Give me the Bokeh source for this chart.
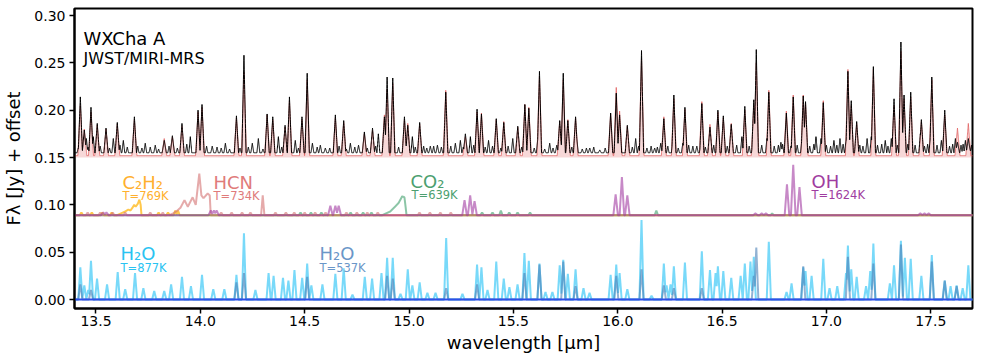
import numpy as np
from bokeh.plotting import figure
from bokeh.models import Label, Range1d, FixedTicker
from bokeh.embed import file_html
from bokeh.resources import INLINE

# ---------------- data ----------------
x_ticks = [13.5, 14.0, 14.5, 15.0, 15.5, 16.0, 16.5, 17.0, 17.5]
x_tick_labels = ["13.5", "14.0", "14.5", "15.0", "15.5", "16.0", "16.5", "17.0", "17.5"]
y_ticks = [0.0, 0.05, 0.10, 0.15, 0.20, 0.25, 0.30]
y_tick_labels = ["0.00", "0.05", "0.10", "0.15", "0.20", "0.25", "0.30"]

# observed (JWST) spectrum: main emission lines, flux incl. +0.15 offset
obs_peak_wl = [13.425, 13.444, 13.476, 13.506, 13.548, 13.602, 13.684, 13.827, 13.866, 13.912,
               13.989, 14.008, 14.173, 14.209, 14.320, 14.347, 14.406, 14.427, 14.487, 14.512,
               14.647, 14.687, 14.786, 14.825, 14.882, 14.895, 14.922, 14.978, 14.994, 15.051,
               15.176, 15.270, 15.326, 15.347, 15.418, 15.454, 15.521, 15.555, 15.574, 15.625,
               15.722, 15.739, 15.761, 15.798, 15.966, 15.993, 16.009, 16.046, 16.114, 16.221,
               16.269, 16.322, 16.403, 16.442, 16.480, 16.506, 16.544, 16.609, 16.652, 16.664,
               16.724, 16.808, 16.841, 16.889, 16.900, 16.985, 17.103, 17.119, 17.145, 17.225,
               17.324, 17.357, 17.372, 17.404, 17.455, 17.505, 17.567, 17.628, 17.680]
obs_peak_val = [0.214, 0.179, 0.203, 0.186, 0.181, 0.187, 0.193, 0.168, 0.173, 0.186,
                0.200, 0.206, 0.194, 0.258, 0.196, 0.193, 0.184, 0.214, 0.193, 0.239,
                0.195, 0.189, 0.177, 0.181, 0.193, 0.235, 0.234, 0.193, 0.184, 0.187,
                0.219, 0.175, 0.201, 0.196, 0.191, 0.187, 0.183, 0.206, 0.202, 0.241,
                0.189, 0.239, 0.189, 0.193, 0.197, 0.218, 0.195, 0.184, 0.263, 0.191,
                0.216, 0.203, 0.207, 0.182, 0.200, 0.194, 0.185, 0.204, 0.211, 0.264,
                0.219, 0.197, 0.214, 0.215, 0.209, 0.208, 0.241, 0.210, 0.188, 0.246,
                0.212, 0.272, 0.216, 0.219, 0.190, 0.235, 0.200, 0.166, 0.170]
model_peak_val = [0.205, 0.180, 0.198, 0.184, 0.180, 0.185, 0.190, 0.170, 0.172, 0.183,
                  0.198, 0.203, 0.192, 0.240, 0.195, 0.190, 0.182, 0.210, 0.190, 0.232,
                  0.192, 0.187, 0.175, 0.179, 0.195, 0.222, 0.228, 0.190, 0.186, 0.185,
                  0.221, 0.172, 0.198, 0.197, 0.190, 0.188, 0.182, 0.206, 0.203, 0.236,
                  0.188, 0.232, 0.190, 0.192, 0.196, 0.224, 0.199, 0.183, 0.255, 0.193,
                  0.212, 0.201, 0.209, 0.185, 0.198, 0.192, 0.186, 0.200, 0.205, 0.250,
                  0.221, 0.199, 0.216, 0.216, 0.207, 0.210, 0.243, 0.205, 0.186, 0.243,
                  0.205, 0.262, 0.212, 0.214, 0.188, 0.232, 0.195, 0.181, 0.186]
# weaker features in the observed spectrum
obs_minor_wl = [13.454, 13.487, 13.583, 13.631, 13.736, 13.784, 13.952, 14.057, 14.120, 14.249,
                14.278, 14.374, 14.455, 14.537, 14.575, 14.599, 14.719, 14.758, 14.853, 15.016,
                15.102, 15.136, 15.222, 15.246, 15.294, 15.381, 15.497, 15.617, 15.674, 15.708,
                15.804, 15.866, 15.914, 16.086, 16.177, 16.206, 16.264, 16.312, 16.379, 16.398,
                16.542, 16.595, 16.648, 16.715, 16.782, 16.806, 16.883, 16.950, 16.974, 17.036,
                17.065, 17.094, 17.195, 17.215, 17.282, 17.311, 17.450, 17.498, 17.551, 17.570,
                17.618, 17.666, 17.685]
obs_minor_val = [0.170, 0.172, 0.170, 0.168, 0.165, 0.163, 0.172, 0.162, 0.165, 0.165,
                 0.170, 0.172, 0.168, 0.165, 0.163, 0.160, 0.165, 0.163, 0.175, 0.172,
                 0.162, 0.163, 0.165, 0.168, 0.172, 0.168, 0.170, 0.170, 0.165, 0.163,
                 0.170, 0.160, 0.158, 0.170, 0.160, 0.165, 0.170, 0.165, 0.162, 0.165,
                 0.170, 0.172, 0.170, 0.170, 0.166, 0.170, 0.170, 0.172, 0.170, 0.168,
                 0.170, 0.168, 0.170, 0.172, 0.168, 0.170, 0.175, 0.172, 0.168, 0.170,
                 0.170, 0.168, 0.162]
# small ripples of the observed continuum
obs_ripple_wl = [13.415, 13.462, 13.520, 13.565, 13.615, 13.650, 13.700, 13.720, 13.760, 13.800,
                 13.850, 13.890, 13.935, 14.030, 14.080, 14.100, 14.140, 14.190, 14.230, 14.300,
                 14.390, 14.470, 14.560, 14.620, 14.665, 14.700, 14.740, 14.800, 14.840, 14.950,
                 15.030, 15.070, 15.085, 15.118, 15.155, 15.200, 15.260, 15.310, 15.365, 15.400,
                 15.440, 15.475, 15.540, 15.600, 15.650, 15.690, 15.780, 15.830, 15.850, 15.885,
                 15.940, 16.070, 16.100, 16.140, 16.160, 16.190, 16.240, 16.290, 16.340, 16.360,
                 16.420, 16.460, 16.525, 16.570, 16.630, 16.690, 16.750, 16.770, 16.790, 16.830,
                 16.860, 16.920, 16.940, 17.000, 17.020, 17.050, 17.080, 17.160, 17.175, 17.245,
                 17.265, 17.295, 17.340, 17.390, 17.425, 17.470, 17.485, 17.530, 17.590, 17.605,
                 17.645, 17.655, 17.695]
obs_ripple_val = [0.160, 0.161, 0.162, 0.160, 0.163, 0.161, 0.162, 0.160, 0.161, 0.159,
                  0.162, 0.160, 0.164, 0.162, 0.161, 0.160, 0.159, 0.160, 0.161, 0.159,
                  0.161, 0.160, 0.161, 0.160, 0.162, 0.159, 0.161, 0.160, 0.162, 0.161,
                  0.161, 0.162, 0.160, 0.162, 0.161, 0.162, 0.161, 0.163, 0.161, 0.162,
                  0.160, 0.162, 0.161, 0.160, 0.159, 0.160, 0.161, 0.159, 0.160, 0.161,
                  0.160, 0.161, 0.162, 0.160, 0.162, 0.161, 0.162, 0.160, 0.163, 0.162,
                  0.161, 0.163, 0.162, 0.163, 0.162, 0.163, 0.162, 0.163, 0.164, 0.162,
                  0.163, 0.162, 0.164, 0.163, 0.162, 0.163, 0.164, 0.163, 0.162, 0.163,
                  0.164, 0.162, 0.163, 0.164, 0.163, 0.162, 0.164, 0.163, 0.162, 0.164,
                  0.163, 0.164, 0.163]

# H2O slab models (no offset)
h2o_hot_wl = [13.425, 13.444, 13.463, 13.476, 13.505, 13.553, 13.604, 13.640, 13.687, 13.727,
              13.779, 13.827, 13.860, 13.912, 13.955, 14.008, 14.062, 14.115, 14.173, 14.209,
              14.264, 14.327, 14.351, 14.396, 14.422, 14.451, 14.488, 14.512, 14.532, 14.585,
              14.647, 14.687, 14.729, 14.788, 14.823, 14.868, 14.895, 14.922, 14.959, 14.994,
              15.016, 15.051, 15.088, 15.127, 15.178, 15.256, 15.326, 15.347, 15.376, 15.418,
              15.454, 15.481, 15.520, 15.553, 15.574, 15.625, 15.654, 15.687, 15.722, 15.739,
              15.761, 15.798, 15.836, 15.865, 15.966, 15.993, 16.009, 16.046, 16.114, 16.162,
              16.221, 16.234, 16.253, 16.269, 16.322, 16.403, 16.442, 16.469, 16.480, 16.506,
              16.544, 16.589, 16.609, 16.636, 16.652, 16.724, 16.809, 16.833, 16.889, 16.900,
              16.929, 16.985, 17.015, 17.052, 17.094, 17.103, 17.119, 17.145, 17.190, 17.210,
              17.225, 17.304, 17.324, 17.357, 17.376, 17.404, 17.455, 17.505, 17.567, 17.595,
              17.624, 17.653, 17.680]
h2o_hot_val = [0.034, 0.015, 0.010, 0.041, 0.022, 0.016, 0.029, 0.011, 0.028, 0.012,
               0.009, 0.009, 0.016, 0.024, 0.014, 0.026, 0.011, 0.011, 0.026, 0.070,
               0.010, 0.028, 0.025, 0.023, 0.020, 0.031, 0.023, 0.038, 0.015, 0.016,
               0.027, 0.033, 0.005, 0.024, 0.022, 0.028, 0.044, 0.044, 0.006, 0.032,
               0.015, 0.018, 0.007, 0.007, 0.065, 0.006, 0.037, 0.034, 0.010, 0.040,
               0.022, 0.013, 0.016, 0.049, 0.041, 0.038, 0.008, 0.008, 0.036, 0.042,
               0.027, 0.032, 0.012, 0.007, 0.026, 0.037, 0.028, 0.011, 0.084, 0.004,
               0.038, 0.015, 0.016, 0.035, 0.039, 0.051, 0.031, 0.028, 0.035, 0.030,
               0.023, 0.025, 0.038, 0.040, 0.045, 0.061, 0.008, 0.017, 0.034, 0.030,
               0.025, 0.043, 0.012, 0.014, 0.028, 0.057, 0.032, 0.024, 0.014, 0.030,
               0.059, 0.017, 0.036, 0.062, 0.044, 0.043, 0.025, 0.047, 0.020, 0.014,
               0.015, 0.012, 0.036]
h2o_cold_wl = [13.425, 13.476, 14.173, 14.209, 14.512, 14.895, 14.922, 15.178, 15.326, 15.553,
               15.625, 15.739, 15.798, 15.993, 16.114, 16.221, 16.269, 16.403, 16.652, 16.664,
               16.889, 17.103, 17.225, 17.357, 17.505, 17.567, 17.624]
h2o_cold_val = [0.016, 0.010, 0.018, 0.028, 0.024, 0.025, 0.022, 0.012, 0.016, 0.028,
                0.037, 0.040, 0.014, 0.025, 0.032, 0.015, 0.012, 0.012, 0.025, 0.055,
                0.035, 0.045, 0.038, 0.058, 0.040, 0.020, 0.014]

# molecular slab models shown with +0.089 offset
c2h2_band_wl = [13.600, 13.620, 13.640, 13.655, 13.665, 13.675, 13.683, 13.690, 13.700, 13.708, 13.714, 13.718]
c2h2_band_val = [0.089, 0.091, 0.093, 0.095, 0.094, 0.097, 0.100, 0.098, 0.101, 0.1055, 0.100, 0.089]
c2h2_line_wl = [13.430, 13.480, 13.530, 13.575, 13.800, 13.845, 13.880, 13.893]
c2h2_line_val = [0.092, 0.092, 0.092, 0.092, 0.092, 0.092, 0.094, 0.094]
hcn_band_wl = [13.850, 13.870, 13.890, 13.905, 13.924, 13.940, 13.963, 13.978, 13.995, 14.005,
               14.015, 14.035, 14.045, 14.050]
hcn_band_val = [0.089, 0.091, 0.094, 0.097, 0.105, 0.098, 0.108, 0.100, 0.133, 0.110,
                0.107, 0.112, 0.110, 0.089]
hcn_line_wl = [13.460, 13.520, 13.580, 13.640, 13.760, 13.820, 14.100, 14.150, 14.200, 14.240,
               14.299, 14.360, 14.410, 14.450, 14.500, 14.550, 14.600, 14.700, 14.750, 14.800,
               14.850, 15.050, 15.100, 15.150, 15.200]
hcn_line_val = [0.092, 0.092, 0.092, 0.092, 0.092, 0.092, 0.092, 0.092, 0.092, 0.092,
                0.110, 0.092, 0.092, 0.092, 0.092, 0.092, 0.092, 0.092, 0.092, 0.092,
                0.092, 0.092, 0.092, 0.092, 0.092]
co2_band_wl = [14.871, 14.890, 14.910, 14.935, 14.950, 14.960, 14.967, 14.978, 14.984, 14.988]
co2_band_val = [0.089, 0.091, 0.093, 0.0985, 0.102, 0.106, 0.109, 0.108, 0.097, 0.089]
co2_line_wl = [14.480, 14.530, 14.580, 14.720, 14.780, 14.820, 15.350, 15.400, 15.440, 15.480,
               15.520, 15.580, 16.185, 16.740]
co2_line_val = [0.092, 0.092, 0.092, 0.092, 0.092, 0.092, 0.092, 0.092, 0.094, 0.092,
                0.092, 0.092, 0.094, 0.091]
oh_line_wl = [13.535, 13.550, 14.050, 14.065, 14.078, 14.623, 14.647, 14.663, 15.266, 15.293,
              15.314, 15.990, 16.020, 16.046, 16.660, 16.690, 16.710, 16.811, 16.841, 16.871,
              17.450, 17.470, 17.490]
oh_line_val = [0.092, 0.092, 0.094, 0.094, 0.094, 0.099, 0.099, 0.099, 0.105, 0.110,
               0.104, 0.111, 0.1293, 0.110, 0.091, 0.091, 0.091, 0.1216, 0.1424, 0.1187,
               0.091, 0.091, 0.091]

# offsets / continuum levels
obs_base = 0.155
model_base = 0.152
fill_floor = 0.150
mid_base = 0.089
low_base = 0.0

x_lo, x_hi = 13.397, 17.700
y_lo, y_hi = -0.0095, 0.3074

# ---------------- line profiles built from the listed lines ----------------
grid = np.arange(13.38, 17.72, 0.0005)


def profile(base, wl, val, hw, band_wl=None, band_val=None):
    y = np.full_like(grid, base)
    for c, v in zip(wl, val):
        tri = base + (v - base) * np.clip(1.0 - np.abs(grid - c) / hw, 0.0, None)
        y = np.maximum(y, tri)
    if band_wl is not None:
        y = np.maximum(y, np.interp(grid, band_wl, band_val, left=base, right=base))
    return y


y_model = profile(model_base, obs_peak_wl, model_peak_val, 0.012)
y_obs = np.maximum.reduce([profile(obs_base, obs_peak_wl, obs_peak_val, 0.010),
                           profile(obs_base, obs_minor_wl, obs_minor_val, 0.007),
                           profile(obs_base, obs_ripple_wl, obs_ripple_val, 0.006)])
y_hot = profile(low_base, h2o_hot_wl, h2o_hot_val, 0.010)
y_cold = profile(low_base, h2o_cold_wl, h2o_cold_val, 0.010)
y_c2h2 = profile(mid_base, c2h2_line_wl, c2h2_line_val, 0.008, c2h2_band_wl, c2h2_band_val)
y_hcn = profile(mid_base, hcn_line_wl, hcn_line_val, 0.008, hcn_band_wl, hcn_band_val)
y_co2 = profile(mid_base, co2_line_wl, co2_line_val, 0.008, co2_band_wl, co2_band_val)
y_oh = profile(mid_base, oh_line_wl, oh_line_val, 0.011)

# ---------------- figure ----------------
p = figure(width=980, height=362, x_range=Range1d(x_lo, x_hi), y_range=Range1d(y_lo, y_hi),
           output_backend="svg", toolbar_location=None,
           min_border_left=74, min_border_right=8, min_border_top=8, min_border_bottom=54)
p.grid.visible = False
p.outline_line_color = "black"
p.outline_line_width = 2
p.background_fill_color = "white"
p.border_fill_color = "white"

FONT = "DejaVu Sans"
for ax in (p.xaxis[0], p.yaxis[0]):
    ax.axis_line_width = 2
    ax.axis_line_color = "black"
    ax.major_tick_out = 5
    ax.major_tick_in = 0
    ax.major_tick_line_width = 1.5
    ax.minor_tick_line_color = None
    ax.major_label_text_font = FONT
    ax.major_label_text_font_size = "14px"
    ax.major_label_text_color = "black"
    ax.axis_label_text_font = FONT
    ax.axis_label_text_font_size = "18px"
    ax.axis_label_text_font_style = "normal"
    ax.axis_label_text_color = "black"

p.xaxis.major_label_standoff = 2
p.yaxis.major_label_standoff = 4
p.xaxis.ticker = FixedTicker(ticks=x_ticks)
p.xaxis.major_label_overrides = dict(zip(x_ticks, x_tick_labels))
p.yaxis.ticker = FixedTicker(ticks=y_ticks)
p.yaxis.major_label_overrides = dict(zip(y_ticks, y_tick_labels))
p.xaxis.axis_label = "wavelength [μm]"
p.xaxis.axis_label_standoff = 3
p.yaxis.axis_label = "Fλ [Jy] + offset"
p.yaxis.axis_label_standoff = 7

# top: model fill + model line + observed spectrum
p.varea(x=grid, y1=fill_floor, y2=y_model, fill_color="#E57E7E", fill_alpha=0.3)
p.line(grid, y_model, line_color="#E05A5A", line_alpha=0.75, line_width=1)
p.line(grid, y_obs, line_color="black", line_width=1)

# middle: molecular slab models
p.line(grid, y_c2h2, line_color="#FFB000", line_alpha=0.7, line_width=2)
p.line(grid, y_co2, line_color="#3E9E6A", line_alpha=0.6, line_width=2)
p.line(grid, y_hcn, line_color="#D47272", line_alpha=0.6, line_width=2)
p.line(grid, y_oh, line_color="#A23BA2", line_alpha=0.6, line_width=2)

# bottom: water
p.line(grid, y_hot, line_color="#1EC0F5", line_alpha=0.6, line_width=2)
p.line(grid, y_cold, line_color="#4A7FB5", line_alpha=0.6, line_width=2)
p.line([x_lo, x_hi], [low_base, low_base], line_color="#2E4FE8", line_width=2)


# ---------------- texts (positions in screen px relative to the frame) ----------------
def txt(x, y, s, size, color):
    p.add_layout(Label(x=x, y=y, x_units="screen", y_units="screen", text=s,
                       text_font=FONT, text_font_size=size, text_color=color,
                       text_align="left", text_baseline="alphabetic"))


txt(9, 270, "WXCha A", "18px", "black")
txt(9, 250, "JWST/MIRI-MRS", "16px", "black")

txt(48, 126, "C₂H₂", "18px", "#FFB02E")
txt(48, 113, "T=769K", "11.5px", "#FFB02E")
txt(139, 126, "HCN", "18px", "#E07B7B")
txt(139, 113, "T=734K", "11.5px", "#E07B7B")
txt(336, 127, "CO₂", "18px", "#4C9F70")
txt(337, 114, "T=639K", "11.5px", "#4C9F70")
txt(737, 127, "OH", "18px", "#A03CA0")
txt(737, 114, "T=1624K", "11.5px", "#A03CA0")
txt(46, 55, "H₂O", "18px", "#29C3F2")
txt(46, 41, "T=877K", "11.5px", "#29C3F2")
txt(245, 55, "H₂O", "18px", "#6A96C8")
txt(245, 41, "T=537K", "11.5px", "#6A96C8")

open("out.html", "w").write(file_html(p, INLINE))
